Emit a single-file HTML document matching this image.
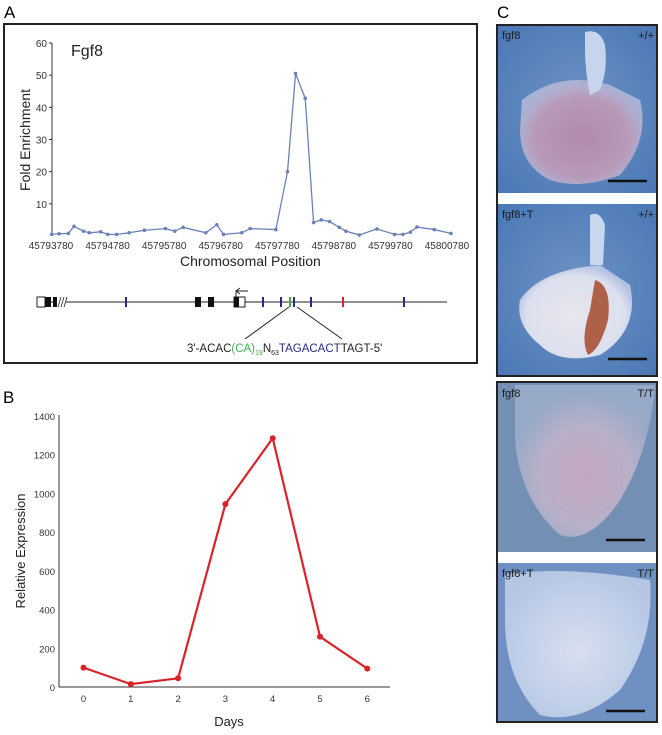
<!DOCTYPE html>
<html><head><meta charset="utf-8"><style>
body{margin:0;background:#fff;width:662px;height:735px;overflow:hidden;font-family:"Liberation Sans",sans-serif}
svg{position:absolute;left:0;top:0}
</style></head><body>
<svg width="662" height="735" viewBox="0 0 662 735">
<defs>
<radialGradient id="bg1" cx="50%" cy="50%" r="70%"><stop offset="0" stop-color="#6f93c4"/><stop offset="1" stop-color="#4a78b6"/></radialGradient>
<radialGradient id="h1" cx="50%" cy="55%" r="55%"><stop offset="0" stop-color="#b08aaa"/><stop offset="0.7" stop-color="#b89ab8"/><stop offset="1" stop-color="#c8c4e0" stop-opacity="0.7"/></radialGradient>
<radialGradient id="h2" cx="50%" cy="55%" r="55%"><stop offset="0" stop-color="#e8e6ee"/><stop offset="0.8" stop-color="#dcdfee"/><stop offset="1" stop-color="#c8d2ea" stop-opacity="0.8"/></radialGradient>
<radialGradient id="h3" cx="50%" cy="60%" r="55%"><stop offset="0" stop-color="#c4a7bf"/><stop offset="0.6" stop-color="#b8b0c8"/><stop offset="1" stop-color="#9fb0cc" stop-opacity="0.8"/></radialGradient>
<radialGradient id="h4" cx="50%" cy="55%" r="60%"><stop offset="0" stop-color="#d8dff0"/><stop offset="1" stop-color="#b4c6e4"/></radialGradient>
</defs>
<!-- Panel labels -->
<text x="4" y="18" font-size="17">A</text>
<text x="3" y="403" font-size="17">B</text>
<text x="497" y="18" font-size="17">C</text>
<rect x="4" y="24" width="473" height="339" fill="none" stroke="#222" stroke-width="2"/>
<g id="chartA"></g>
<g>
<line x1="38" y1="302" x2="447" y2="302" stroke="#222" stroke-width="1"/>
<rect x="37" y="297" width="8" height="10" fill="#fff" stroke="#222"/>
<rect x="45" y="297" width="6" height="10" fill="#111"/>
<rect x="53" y="297" width="4" height="10" fill="#111"/>
<rect x="57" y="297" width="9" height="10" fill="#fff"/>
<path d="M58 307 L61 297 M61 307 L64 297 M64 307 L67 297" stroke="#222" stroke-width="0.8"/>
<rect x="195" y="297" width="6" height="10" fill="#111"/>
<rect x="208" y="297" width="6" height="10" fill="#111"/>
<rect x="234" y="297" width="11" height="10" fill="#fff" stroke="#222"/>
<rect x="234" y="297" width="5" height="10" fill="#111"/>
<path d="M236 297 V291 H248" stroke="#222" fill="none"/>
<path d="M236 291 l4 -3 M236 291 l4 3" stroke="#222" fill="none"/>
<g stroke="#2a2a8a" stroke-width="2">
<line x1="126" y1="297" x2="126" y2="307"/><line x1="263" y1="297" x2="263" y2="307"/><line x1="281" y1="297" x2="281" y2="307"/><line x1="294" y1="297" x2="294" y2="307"/><line x1="311" y1="297" x2="311" y2="307"/><line x1="404" y1="297" x2="404" y2="307"/>
</g>
<line x1="290" y1="297" x2="290" y2="307" stroke="#3db04a" stroke-width="2"/>
<line x1="343" y1="297" x2="343" y2="307" stroke="#e0202a" stroke-width="2"/>
<line x1="289" y1="307" x2="245" y2="339" stroke="#222"/>
<line x1="297" y1="307" x2="342" y2="339" stroke="#222"/>
<text x="187" y="352" font-size="11.5" fill="#222">3'-ACAC<tspan fill="#3db04a">(CA)<tspan font-size="7" dy="3">19</tspan></tspan><tspan dy="-3">N</tspan><tspan font-size="7" dy="3">63</tspan><tspan dy="-3" fill="#2a2a8a">TAGACACT</tspan>TAGT-5'</text>
</g>
<g id="chartB"></g>
<!-- Panel C -->
<g>
<rect x="497" y="25" width="160" height="351" fill="#fff" stroke="#222" stroke-width="2"/>
<rect x="498" y="26" width="158" height="167" fill="url(#bg1)"/>
<path d="M522 100 Q560 70 610 85 L640 100 Q650 140 620 175 Q580 190 550 180 Q520 165 520 130 Z" fill="url(#h1)"/>
<path d="M585 32 Q600 28 605 45 Q608 70 600 90 L590 95 Q585 70 585 50 Z" fill="#c6d4ee"/>
<rect x="498" y="204" width="158" height="171" fill="url(#bg1)"/>
<path d="M520 300 Q540 270 600 265 L630 285 Q640 330 600 355 Q560 365 540 345 Q515 325 520 300 Z" fill="url(#h2)"/>
<path d="M590 215 Q600 210 605 225 L603 265 L590 265 Z" fill="#c8d6ee"/>
<path d="M595 280 Q612 285 608 320 Q600 350 588 355 Q580 340 590 310 Z" fill="#a64a2a" opacity="0.85"/>
<rect x="497" y="382" width="160" height="340" fill="#fff" stroke="#222" stroke-width="2"/>
<rect x="498" y="383" width="158" height="169" fill="#7390b4"/>
<path d="M515 385 L655 385 Q650 450 620 500 Q590 545 560 535 Q520 500 515 440 Z" fill="url(#h3)"/>
<rect x="498" y="563" width="158" height="158" fill="#6f91c2"/>
<path d="M505 575 Q560 565 650 580 Q655 640 620 690 Q580 725 540 715 Q505 680 505 620 Z" fill="url(#h4)"/>
<g font-size="11" fill="#1a1a1a">
<text x="502" y="39">fgf8</text><text x="654" y="39" text-anchor="end">+/+</text>
<text x="502" y="218">fgf8+T</text><text x="654" y="218" text-anchor="end">+/+</text>
<text x="502" y="397">fgf8</text><text x="654" y="397" text-anchor="end">T/T</text>
<text x="502" y="577">fgf8+T</text><text x="654" y="577" text-anchor="end">T/T</text>
</g>
<g stroke="#111" stroke-width="2.5">
<line x1="608" y1="181" x2="647" y2="181"/><line x1="608" y1="359" x2="647" y2="359"/>
<line x1="606" y1="540" x2="645" y2="540"/><line x1="606" y1="711" x2="645" y2="711"/>
</g>
</g>
</svg>
<script>
const NS="http://www.w3.org/2000/svg";
const posA=[45793792,45793922,45794087,45794187,45794352,45794458,45794659,45794783,45794942,45795160,45795431,45795803,45795968,45796115,45796516,45796711,45796829,45797153,45797301,45797755,45797961,45798103,45798274,45798421,45798557,45798704,45798875,45798993,45799229,45799541,45799854,45800001,45800131,45800249,45800555,45800850];
const foldA=[0.5,0.7,0.8,3,1.5,1,1.3,0.5,0.5,1,1.8,2.3,1.5,2.7,1,3.5,0.5,1,2.3,2,20,50.5,42.8,4.2,5,4.5,2.7,1.5,0.3,2.2,0.5,0.5,1.2,2.8,2,0.8];
const ticksAX=[45793780,45794780,45795780,45796780,45797780,45798780,45799780,45800780];
const ticksAY=[10,20,30,40,50,60];
const daysB=[0,1,2,3,4,5,6];
const exprB=[100,15,45,945,1285,260,95];
const ticksBY=[0,200,400,600,800,1000,1200,1400];

function mk(tag,attrs,parent){const e=document.createElementNS(NS,tag);for(const k in attrs)e.setAttribute(k,attrs[k]);parent.appendChild(e);return e;}

// Chart A
const gA=document.getElementById('chartA');
const xA=v=>51+(v-45793780)*(396/7000);
const yA=v=>236-v*(193/60);
let l=mk('line',{x1:52,y1:yA(60),x2:52,y2:236,stroke:'#333','stroke-width':1},gA);

ticksAY.forEach(t=>{mk('line',{x1:49,y1:yA(t),x2:52,y2:yA(t),stroke:'#333'},gA);
 const tx=mk('text',{x:47,y:yA(t)+4,'font-size':10,'text-anchor':'end',fill:'#333'},gA);tx.textContent=t;
 });
ticksAX.forEach(t=>{const tx=mk('text',{x:xA(t),y:249,'font-size':10,'text-anchor':'middle',fill:'#333'},gA);tx.textContent=t;
 });
let t1=mk('text',{x:71,y:56,'font-size':16,fill:'#222'},gA);t1.textContent='Fgf8';

let t2=mk('text',{x:180,y:266,'font-size':14,fill:'#222'},gA);t2.textContent='Chromosomal Position';

let t3=mk('text',{x:0,y:0,'font-size':14,fill:'#222','text-anchor':'middle',transform:'translate(30,140) rotate(-90)'},gA);t3.textContent='Fold Enrichment';

let pA=mk('polyline',{points:posA.map((p,i)=>xA(p)+','+yA(foldA[i])).join(' '),fill:'none',stroke:'#6b82b8','stroke-width':1.3},gA);

posA.forEach((p,i)=>{const c=mk('circle',{cx:xA(p),cy:yA(foldA[i]),r:1.8,fill:'#6b82b8'},gA);
 });

// Chart B
const gB=document.getElementById('chartB');
const xB=d=>83.5+d*47.3;
const yB=v=>687-v*(271/1400);
mk('line',{x1:59,y1:415,x2:59,y2:687,stroke:'#333'},gB);
let ax=mk('line',{x1:59,y1:687,x2:390,y2:687,stroke:'#333'},gB);

ticksBY.forEach(t=>{const tx=mk('text',{x:55,y:yB(t)+4,'font-size':9.5,'text-anchor':'end',fill:'#333'},gB);tx.textContent=t;
 });
daysB.forEach(d=>{const tx=mk('text',{x:xB(d),y:702,'font-size':9.5,'text-anchor':'middle',fill:'#333'},gB);tx.textContent=d;
 });
let t4=mk('text',{x:229,y:726,'font-size':13,'text-anchor':'middle',fill:'#222'},gB);t4.textContent='Days';

let t5=mk('text',{x:0,y:0,'font-size':13,'text-anchor':'middle',fill:'#222',transform:'translate(25,551) rotate(-90)'},gB);t5.textContent='Relative Expression';

let pB=mk('polyline',{points:daysB.map((d,i)=>xB(d)+','+yB(exprB[i])).join(' '),fill:'none',stroke:'#d9232a','stroke-width':2.2},gB);

daysB.forEach((d,i)=>{const c=mk('circle',{cx:xB(d),cy:yB(exprB[i]),r:3,fill:'#d9232a'},gB);
 });
</script>
</body></html>
